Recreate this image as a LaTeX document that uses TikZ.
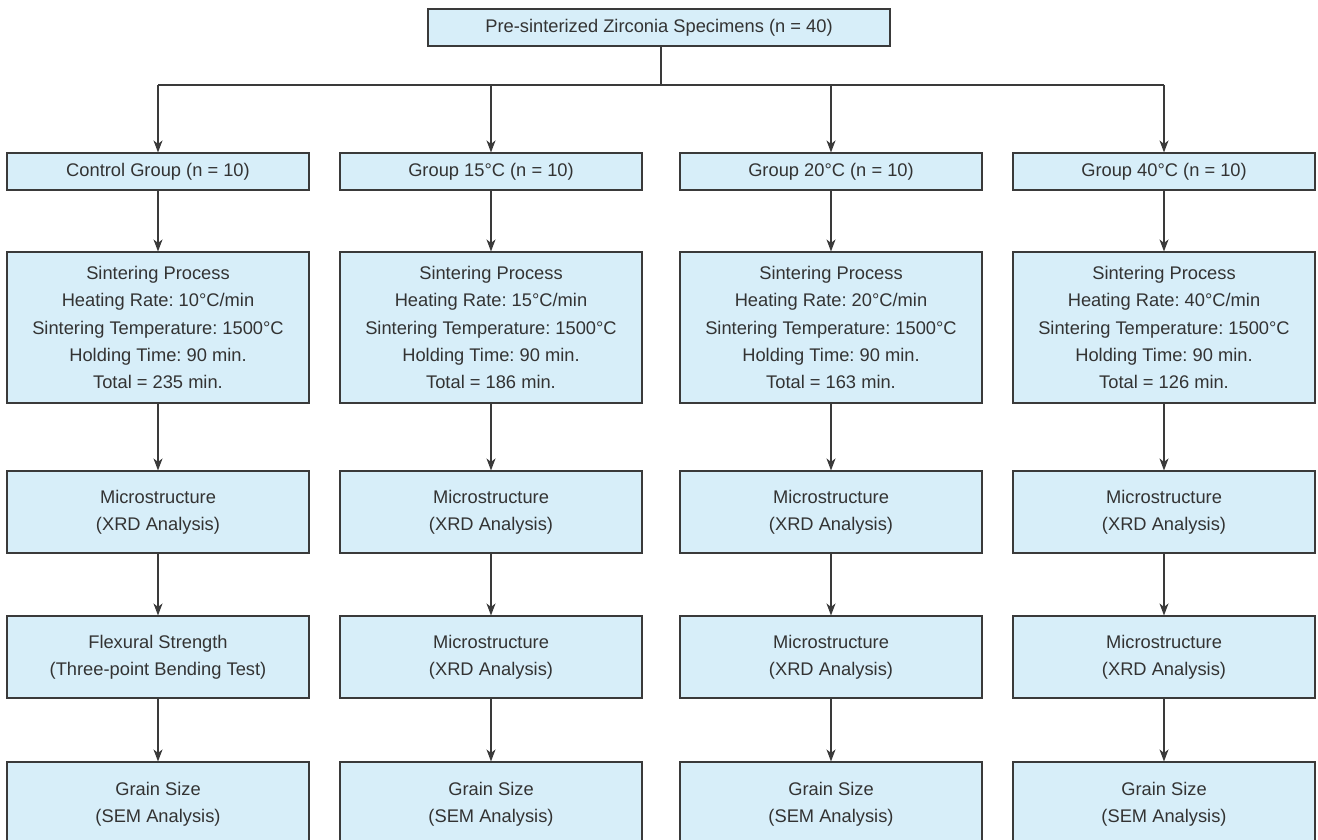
\documentclass[tikz,border=0pt]{standalone}
\usepackage{fontspec}
\setmainfont{Liberation Sans}
\frenchspacing
\usetikzlibrary{arrows.meta}
\definecolor{boxfill}{HTML}{D7EEF9}
\definecolor{boxline}{HTML}{3A3A3A}
\definecolor{txt}{HTML}{333333}
\tikzset{
  box/.style={draw=boxline, line width=1.1pt, fill=boxfill, text=txt,
    minimum width=302pt, inner sep=0pt, align=center,
    font=\fontsize{18.3}{27.3}\selectfont},
  conn/.style={draw=boxline, line width=1.1pt},
  arr/.style={conn, -{Stealth[length=12pt,width=9pt,inset=3.5pt]}}
}
\begin{document}
\begin{tikzpicture}[x=1pt,y=-1pt]
\useasboundingbox (0,0) rectangle (1318,840);
% top
\node[box, minimum width=462pt, minimum height=37pt] (top) at (659,27.5) {Pre-sinterized Zirconia Specimens (n = 40)};
% groups
\node[box, minimum height=37pt] (g1) at (158,171.5) {Control Group (n = 10)};
\node[box, minimum height=37pt] (g2) at (491,171.5) {Group 15°C (n = 10)};
\node[box, minimum height=37pt] (g3) at (831,171.5) {Group 20°C (n = 10)};
\node[box, minimum height=37pt] (g4) at (1164,171.5) {Group 40°C (n = 10)};
% sintering
\node[box, minimum height=151pt] (s1) at (158,327.5) {Sintering Process\\Heating Rate: 10°C/min\\Sintering Temperature: 1500°C\\Holding Time: 90 min.\\Total = 235 min.};
\node[box, minimum height=151pt] (s2) at (491,327.5) {Sintering Process\\Heating Rate: 15°C/min\\Sintering Temperature: 1500°C\\Holding Time: 90 min.\\Total = 186 min.};
\node[box, minimum height=151pt] (s3) at (831,327.5) {Sintering Process\\Heating Rate: 20°C/min\\Sintering Temperature: 1500°C\\Holding Time: 90 min.\\Total = 163 min.};
\node[box, minimum height=151pt] (s4) at (1164,327.5) {Sintering Process\\Heating Rate: 40°C/min\\Sintering Temperature: 1500°C\\Holding Time: 90 min.\\Total = 126 min.};
% microstructure row
\node[box, minimum height=82pt] (m1) at (158,512) {Microstructure\\(XRD Analysis)};
\node[box, minimum height=82pt] (m2) at (491,512) {Microstructure\\(XRD Analysis)};
\node[box, minimum height=82pt] (m3) at (831,512) {Microstructure\\(XRD Analysis)};
\node[box, minimum height=82pt] (m4) at (1164,512) {Microstructure\\(XRD Analysis)};
% second analysis row
\node[box, minimum height=82pt] (f1) at (158,657) {Flexural Strength\\(Three-point Bending Test)};
\node[box, minimum height=82pt] (f2) at (491,657) {Microstructure\\(XRD Analysis)};
\node[box, minimum height=82pt] (f3) at (831,657) {Microstructure\\(XRD Analysis)};
\node[box, minimum height=82pt] (f4) at (1164,657) {Microstructure\\(XRD Analysis)};
% grain size row (continues below the page)
\node[box, minimum height=85pt] (z1) at (158,804.5) {Grain Size\\(SEM Analysis)};
\node[box, minimum height=85pt] (z2) at (491,804.5) {Grain Size\\(SEM Analysis)};
\node[box, minimum height=85pt] (z3) at (831,804.5) {Grain Size\\(SEM Analysis)};
\node[box, minimum height=85pt] (z4) at (1164,804.5) {Grain Size\\(SEM Analysis)};
% connectors
\coordinate (bus) at (661,85);
\draw[conn] (top.south -| bus) -- (bus);
\draw[conn] (g1 |- bus) -- (g4 |- bus);
\foreach \i in {1,2,3,4}{
  \draw[arr] (g\i |- bus) -- (g\i.north);
  \draw[arr] (g\i.south) -- (s\i.north);
  \draw[arr] (s\i.south) -- (m\i.north);
  \draw[arr] (m\i.south) -- (f\i.north);
  \draw[arr] (f\i.south) -- (z\i.north);
}
\end{tikzpicture}
\end{document}
